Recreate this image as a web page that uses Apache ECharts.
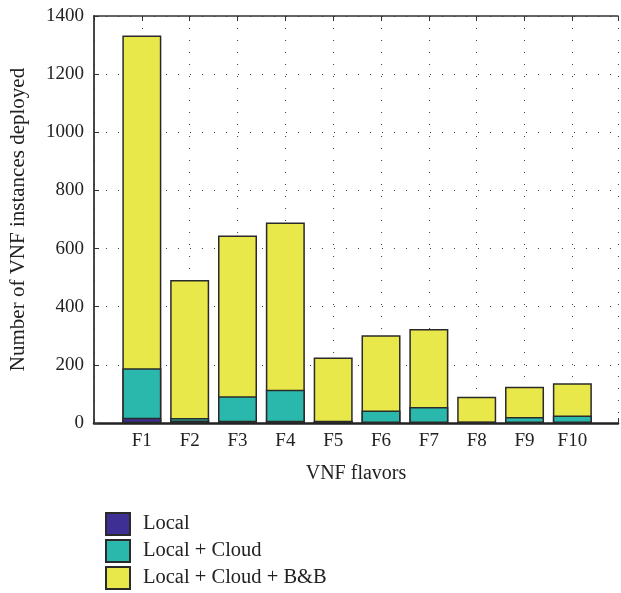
<!DOCTYPE html>
<html><head><meta charset="utf-8">
<script src="https://cdn.jsdelivr.net/npm/echarts@6/dist/echarts.min.js"></script>
<style>html,body{margin:0;padding:0;background:#fff}#c{width:621px;height:593px}</style>
</head><body><div id="c"></div>
<script>
var categories = ['F1','F2','F3','F4','F5','F6','F7','F8','F9','F10'];
var localVals = [18, 9, 8, 8, 6, 2, 2, 1, 1, 1];
var cloudVals = [170, 8, 84, 106, 2, 41, 53, 3, 20, 25];
var bbVals = [1145, 475, 553, 576, 217, 259, 268, 86, 104, 111];
var yTicks = [0, 200, 400, 600, 800, 1000, 1200, 1400];
var seriesNames = ['Local', 'Local + Cloud', 'Local + Cloud + B&B'];
var colors = ['#3d2f94', '#2bb8ac', '#e9e84a'];

var font = 'Liberation Serif';
// cumulative (stacked) heights built from the segment arrays
var segs = [localVals, cloudVals, bbVals];
var cum = [];
segs.forEach(function(arr, s){
  cum.push(arr.map(function(v, i){ return (s ? cum[s-1][i] : 0) + v; }));
});
function pts(arr){ return arr.map(function(v,i){ return [i+1, v]; }); }

var chart = echarts.init(document.getElementById('c'));
var dotted = {show:true, lineStyle:{color:'#444', width:1, type:[1,11]}};
var series = [];
for (var s = 2; s >= 0; s--) {
  series.push({
    name: seriesNames[s], type:'bar', barWidth:39, barGap:'-100%',
    data: pts(cum[s]), z: 2 + (2 - s),
    itemStyle:{color:colors[s], borderColor:'#2a2a2a', borderWidth:1.5}
  });
}
chart.setOption({
  animation:false,
  grid: {left:94, right:0, top:16, bottom:170},
  legend: {
    orient:'vertical', left:105, top:512, padding:0,
    itemWidth:24, itemHeight:22, itemGap:3, icon:'rect',
    data: seriesNames,
    textStyle:{fontFamily:font, fontSize:20.5, lineHeight:22, color:'#222', padding:[0,0,0,8]}
  },
  xAxis: [{
    type:'value', min:0, max:10.954, interval:1,
    name:'VNF flavors', nameLocation:'middle', nameGap:41,
    nameTextStyle:{fontFamily:font, fontSize:20, color:'#222'},
    axisLine:{lineStyle:{color:'#222', width:2.5}},
    axisTick:{inside:true, length:5, lineStyle:{color:'#333'}},
    axisLabel:{fontFamily:font, fontSize:19, color:'#222', margin:9,
      formatter:function(v){ return categories[v-1] || ''; }},
    splitLine: dotted
  },{
    type:'value', min:0, max:10.954, interval:1, position:'top',
    axisLine:{show:true, onZero:false, lineStyle:{color:'#333', width:1.5}},
    axisTick:{inside:true, length:5, lineStyle:{color:'#333'}},
    axisLabel:{show:false}, splitLine:{show:false}
  }],
  yAxis: {
    type:'value', min:yTicks[0], max:yTicks[yTicks.length-1], interval:yTicks[1]-yTicks[0],
    name:'Number of VNF instances deployed', nameLocation:'middle', nameGap:65,
    nameTextStyle:{fontFamily:font, fontSize:21, color:'#222'},
    axisLine:{show:true, lineStyle:{color:'#333', width:1.8}},
    axisTick:{show:true, inside:true, length:5, lineStyle:{color:'#333'}},
    axisLabel:{fontFamily:font, fontSize:19, color:'#222', margin:10,
      formatter:function(v){ return String(v); }},
    splitLine: dotted
  },
  series: series
});
</script></body></html>
